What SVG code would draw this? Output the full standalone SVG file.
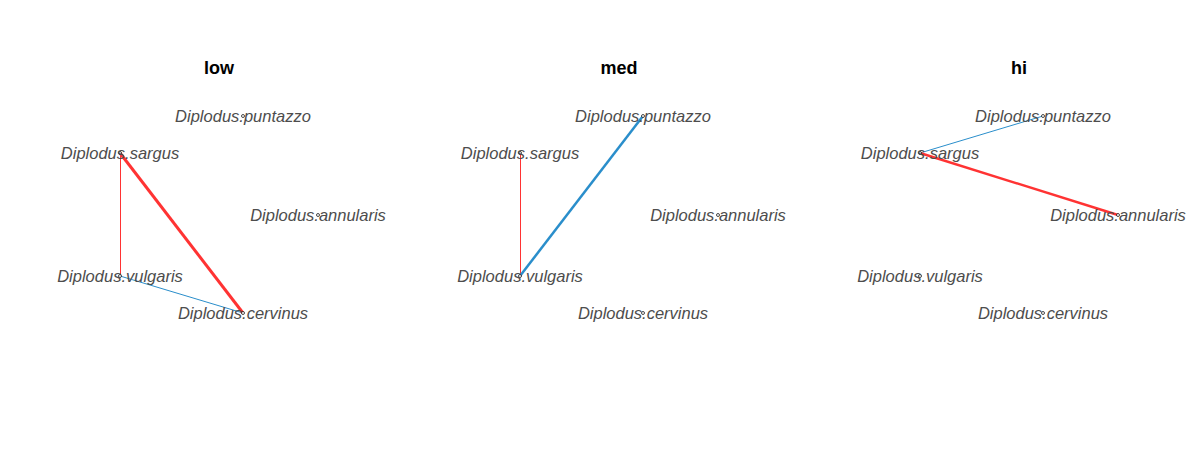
<svg xmlns="http://www.w3.org/2000/svg" width="1200" height="450" viewBox="0 0 1200 450">
<style>
.t{font-family:"Liberation Sans",Arial,sans-serif;font-size:18px;font-weight:bold;fill:#000;text-anchor:middle}
.n{font-family:"Liberation Sans",Arial,sans-serif;font-size:16.5px;font-style:italic;fill:#4d4d4d;text-anchor:middle}
.p{fill:#fff;stroke:#000;stroke-width:0.7}
.r{stroke:#ff3333;fill:none}
.b{stroke:#2a8ecb;fill:none}
</style>
<rect width="1200" height="450" fill="#fff"/>
<g id="titles">
<text class="t" x="219" y="74">low</text>
<text class="t" x="619" y="74">med</text>
<text class="t" x="1019" y="74">hi</text>
</g>
<g id="connectors">
<line class="r" x1="120.5" y1="153" x2="120.5" y2="276" stroke-width="1"/>
<line class="b" x1="120" y1="276" x2="243" y2="313" stroke-width="1"/>
<line class="r" x1="120" y1="153" x2="243" y2="313" stroke-width="3"/>
<line class="r" x1="520.5" y1="153" x2="520.5" y2="276" stroke-width="1"/>
<line class="b" x1="520" y1="276" x2="643" y2="116" stroke-width="2.5"/>
<line class="b" x1="920" y1="153" x2="1043" y2="116" stroke-width="1"/>
<line class="r" x1="920" y1="153" x2="1118" y2="215" stroke-width="2.5"/>
</g>
<g id="low">
<g id="low-puntazzo"><circle class="p" cx="243" cy="116" r="1.5"/><text class="n" x="243" y="122">Diplodus.puntazzo</text></g>
<g id="low-sargus"><circle class="p" cx="120" cy="153" r="1.5"/><text class="n" x="120" y="159">Diplodus.sargus</text></g>
<g id="low-annularis"><circle class="p" cx="318" cy="215" r="1.5"/><text class="n" x="318" y="221">Diplodus.annularis</text></g>
<g id="low-vulgaris"><circle class="p" cx="120" cy="276" r="1.5"/><text class="n" x="120" y="282">Diplodus.vulgaris</text></g>
<g id="low-cervinus"><circle class="p" cx="243" cy="313" r="1.5"/><text class="n" x="243" y="319">Diplodus.cervinus</text></g>
</g>
<g id="med">
<g id="med-puntazzo"><circle class="p" cx="643" cy="116" r="1.5"/><text class="n" x="643" y="122">Diplodus.puntazzo</text></g>
<g id="med-sargus"><circle class="p" cx="520" cy="153" r="1.5"/><text class="n" x="520" y="159">Diplodus.sargus</text></g>
<g id="med-annularis"><circle class="p" cx="718" cy="215" r="1.5"/><text class="n" x="718" y="221">Diplodus.annularis</text></g>
<g id="med-vulgaris"><circle class="p" cx="520" cy="276" r="1.5"/><text class="n" x="520" y="282">Diplodus.vulgaris</text></g>
<g id="med-cervinus"><circle class="p" cx="643" cy="313" r="1.5"/><text class="n" x="643" y="319">Diplodus.cervinus</text></g>
</g>
<g id="hi">
<g id="hi-puntazzo"><circle class="p" cx="1043" cy="116" r="1.5"/><text class="n" x="1043" y="122">Diplodus.puntazzo</text></g>
<g id="hi-sargus"><circle class="p" cx="920" cy="153" r="1.5"/><text class="n" x="920" y="159">Diplodus.sargus</text></g>
<g id="hi-annularis"><circle class="p" cx="1118" cy="215" r="1.5"/><text class="n" x="1118" y="221">Diplodus.annularis</text></g>
<g id="hi-vulgaris"><circle class="p" cx="920" cy="276" r="1.5"/><text class="n" x="920" y="282">Diplodus.vulgaris</text></g>
<g id="hi-cervinus"><circle class="p" cx="1043" cy="313" r="1.5"/><text class="n" x="1043" y="319">Diplodus.cervinus</text></g>
</g>
</svg>
